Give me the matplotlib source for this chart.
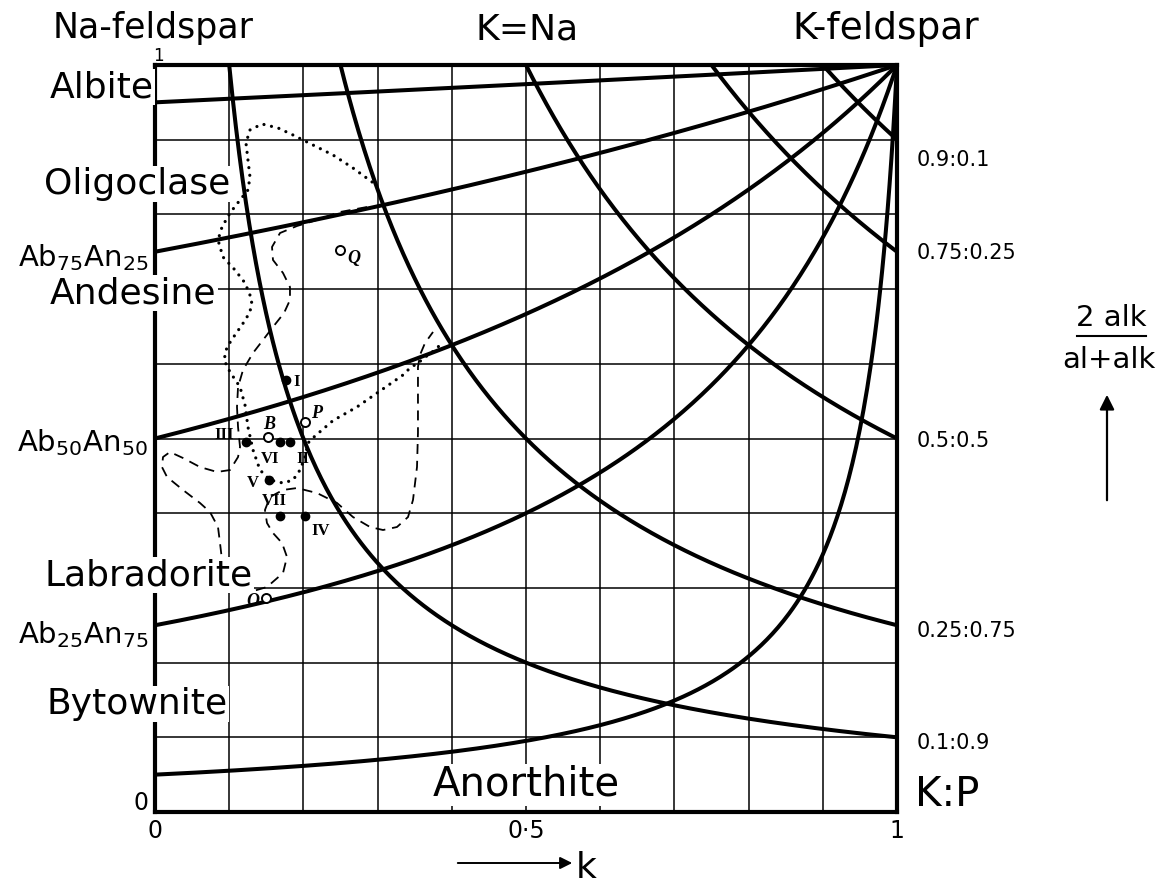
import matplotlib
matplotlib.use("Agg")
import matplotlib.pyplot as plt
import numpy as np

# ---------------- data ----------------
# plagioclase compositions (Ab fraction) where the mixing curves towards K-feldspar start (k = 0)
plag_ab = [0.95, 0.75, 0.5, 0.25, 0.05]
# K-feldspar : plagioclase ratios (fraction of K-feldspar) of the hyperbolic curves
kp_ratio = [0.9, 0.75, 0.5, 0.25, 0.1]
kp_labels = ["0.9:0.1", "0.75:0.25", "0.5:0.5", "0.25:0.75", "0.1:0.9"]
grid_vals = [0.1, 0.2, 0.3, 0.4, 0.5, 0.6, 0.7, 0.8, 0.9]
x_ticks = [0, 0.5, 1]
x_tick_labels = ["0", "0\u00b75", "1"]

# filled sample points
pt_names = ["I", "II", "III", "IV", "V", "VI", "VII"]
pt_k = [0.177, 0.182, 0.122, 0.202, 0.154, 0.168, 0.169]
pt_y = [0.578, 0.495, 0.495, 0.396, 0.444, 0.495, 0.396]
# open circles
open_names = ["B", "P", "Q", "O"]
open_k = [0.152, 0.202, 0.249, 0.150]
open_y = [0.502, 0.522, 0.752, 0.286]

# dotted field outline
dot_k = [0.2925, 0.2668, 0.2399, 0.2129, 0.1860, 0.1658, 0.1442, 0.1280, 0.1226, 0.1253,
         0.1280, 0.1253, 0.1146, 0.1011, 0.0903, 0.0849, 0.0916, 0.1078, 0.1213, 0.1307,
         0.1280, 0.1199, 0.1078, 0.0970, 0.0930, 0.1011, 0.1146, 0.1213, 0.1253, 0.1321,
         0.1415, 0.1550, 0.1725, 0.1860, 0.1954, 0.2022, 0.2062, 0.2156, 0.2399, 0.2722,
         0.3032, 0.3342, 0.3437, 0.3544, 0.3679, 0.3774, 0.3841]
dot_y = [0.8434, 0.8621, 0.8795, 0.8929, 0.9063, 0.9157, 0.9210, 0.9130, 0.8956, 0.8728,
         0.8501, 0.8327, 0.8193, 0.8019, 0.7831, 0.7657, 0.7430, 0.7256, 0.7082, 0.6854,
         0.6693, 0.6560, 0.6386, 0.6225, 0.6051, 0.5890, 0.5689, 0.5448, 0.5154, 0.4846,
         0.4578, 0.4444, 0.4404, 0.4444, 0.4578, 0.4752, 0.4940, 0.5033, 0.5240, 0.5422,
         0.5636, 0.5850, 0.5944, 0.6011, 0.6118, 0.6185, 0.6252]

# dashed field outline
dash_k = [0.2857, 0.2493, 0.2183, 0.1914, 0.1685, 0.1577, 0.1590, 0.1725, 0.1819, 0.1819,
          0.1739, 0.1590, 0.1456, 0.1321, 0.1186, 0.1119, 0.1105, 0.1119, 0.1146, 0.1119,
          0.1011, 0.0836, 0.0606, 0.0377, 0.0202, 0.0108, 0.0094, 0.0162, 0.0377, 0.0606,
          0.0741, 0.0849, 0.0876, 0.0903, 0.0984, 0.1146, 0.1280, 0.1509, 0.1725, 0.1779,
          0.1712, 0.1590, 0.1509, 0.1482, 0.1550, 0.1725, 0.1914, 0.2183, 0.2453, 0.2668,
          0.2898, 0.3073, 0.3261, 0.3410, 0.3477, 0.3531, 0.3544, 0.3544, 0.3544, 0.3571,
          0.3639, 0.3747]
dash_y = [0.8099, 0.8032, 0.7925, 0.7845, 0.7751, 0.7564, 0.7390, 0.7216, 0.7028, 0.6854,
          0.6680, 0.6493, 0.6319, 0.6145, 0.5917, 0.5689, 0.5422, 0.5154, 0.4886, 0.4752,
          0.4578, 0.4552, 0.4618, 0.4739, 0.4819, 0.4752, 0.4618, 0.4485, 0.4311, 0.4137,
          0.4016, 0.3815, 0.3601, 0.3373, 0.3133, 0.3012, 0.2945, 0.3012, 0.3199, 0.3414,
          0.3601, 0.3735, 0.3869, 0.4043, 0.4217, 0.4311, 0.4337, 0.4270, 0.4137, 0.3949,
          0.3815, 0.3775, 0.3815, 0.3949, 0.4177, 0.4618, 0.5074, 0.5515, 0.5957, 0.6118,
          0.6278, 0.6426]

# ---------------- figure ----------------
W, H = 1164, 884
fig = plt.figure(figsize=(W / 100, H / 100), dpi=100)
fig.patch.set_facecolor("white")


def fx(x):
    return x / W


def fy(y):
    return 1 - y / H


ax = fig.add_axes([fx(155), fy(812), 742 / W, 747 / H])
ax.set_xlim(0, 1)
ax.set_ylim(0, 1)
for s in ax.spines.values():
    s.set_linewidth(3.0)
    s.set_zorder(3)
ax.set_xticks(x_ticks)
ax.set_xticklabels(x_tick_labels, fontsize=17)
ax.set_yticks([])
ax.tick_params(axis="x", length=0, pad=5)

# grid
for g in grid_vals:
    ax.axvline(g, color="black", lw=1.1, zorder=1)
    ax.axhline(g, color="black", lw=1.1, zorder=1)

# mixing curves plagioclase -> K-feldspar
kk = np.linspace(0, 1, 400)
for p in plag_ab:
    ax.plot(kk, p / (1 - kk * (1 - p)), color="black", lw=2.9, zorder=2,
            solid_capstyle="butt")

# constant K:P ratio curves
for r in kp_ratio:
    kr = np.linspace(r, 1, 400)
    ax.plot(kr, r / kr, color="black", lw=2.9, zorder=2, solid_capstyle="butt")

# field outlines
ax.plot(dot_k, dot_y, color="black", lw=2.3, linestyle=(0, (0.01, 2.4)),
        dash_capstyle="round", zorder=4)
ax.plot(dash_k, dash_y, color="black", lw=1.3, linestyle=(0, (5.5, 3.8)), zorder=4)

# points
ax.plot(pt_k, pt_y, "o", color="black", ms=6, zorder=6)
ax.plot(open_k, open_y, "o", mfc="white", mec="black", mew=1.4, ms=6.5, zorder=6)

# point labels (pixel positions of label centres)
roman_pos = {"I": (297, 382), "II": (303, 459), "III": (224, 435), "IV": (321, 531),
             "V": (253, 483), "VI": (270, 459), "VII": (274, 501)}
for name, (px, py) in roman_pos.items():
    fig.text(fx(px), fy(py), name, family="Liberation Serif", weight="bold",
             fontsize=12, ha="center", va="center", zorder=7)
open_pos = {"B": (269, 424), "P": (317, 413), "Q": (354, 258), "O": (253, 601)}
for name, (px, py) in open_pos.items():
    fig.text(fx(px), fy(py), name, family="Liberation Serif", weight="bold",
             style="italic", fontsize=13, ha="center", va="center", zorder=7)

box = dict(facecolor="white", edgecolor="none", pad=1.0)
big = 26

# headers
fig.text(fx(153), fy(38), "Na-feldspar", fontsize=25, ha="center", va="baseline")
fig.text(fx(527), fy(39), "K=Na", fontsize=26, ha="center", va="baseline")
fig.text(fx(886), fy(39), "K-feldspar", fontsize=27, ha="center", va="baseline")

# region labels (plagioclase names)
fig.text(fx(50), fy(97), "Albite", fontsize=big, ha="left", va="baseline",
         bbox=box, zorder=8)
fig.text(fx(44), fy(194), "Oligoclase", fontsize=big, ha="left", va="baseline",
         bbox=box, zorder=8)
fig.text(fx(50), fy(303), "Andesine", fontsize=big, ha="left", va="baseline",
         bbox=box, zorder=8)
fig.text(fx(44), fy(585), "Labradorite", fontsize=big, ha="left", va="baseline",
         bbox=box, zorder=8)
fig.text(fx(46), fy(714), "Bytownite", fontsize=big, ha="left", va="baseline",
         bbox=box, zorder=8)
fig.text(fx(526), fy(796), "Anorthite", fontsize=29, ha="center", va="baseline",
         bbox=box, zorder=8)

# plagioclase composition labels on the left
fig.text(fx(148), fy(266), r"Ab$_{75}$An$_{25}$", fontsize=21, ha="right", va="baseline")
fig.text(fx(148), fy(451), r"Ab$_{50}$An$_{50}$", fontsize=21, ha="right", va="baseline")
fig.text(fx(148), fy(643), r"Ab$_{25}$An$_{75}$", fontsize=21, ha="right", va="baseline")

# y end labels
fig.text(fx(158), fy(61), "1", fontsize=12, ha="center", va="baseline", zorder=9)
fig.text(fx(141), fy(810), "0", fontsize=17, ha="center", va="baseline")

# K:P labels on the right
kp_label_y = [166, 259, 447, 637, 749]
for lab, py in zip(kp_labels, kp_label_y):
    fig.text(fx(917), fy(py), lab, fontsize=15, ha="left", va="baseline")
fig.text(fx(915), fy(806), "K:P", fontsize=29, ha="left", va="baseline")

# y quantity label
fig.text(fx(1111), fy(326), "2 alk", fontsize=21, ha="center", va="baseline")
fig.add_artist(plt.Line2D([fx(1077), fx(1146)], [fy(336), fy(336)], color="black",
                          lw=1.5, transform=fig.transFigure))
fig.text(fx(1109), fy(368), "al+alk", fontsize=21, ha="center", va="baseline")
fig.add_artist(matplotlib.patches.FancyArrowPatch(
    (fx(1107), fy(503)), (fx(1107), fy(392)), transform=fig.transFigure,
    arrowstyle="-|>", mutation_scale=22, lw=1.6, color="black"))

# x quantity label
fig.add_artist(matplotlib.patches.FancyArrowPatch(
    (fx(455), fy(863)), (fx(575), fy(863)), transform=fig.transFigure,
    arrowstyle="-|>", mutation_scale=18, lw=1.4, color="black"))
fig.text(fx(576), fy(878), "k", fontsize=26, ha="left", va="baseline")

fig.savefig("out.png", dpi=100, facecolor="white")
